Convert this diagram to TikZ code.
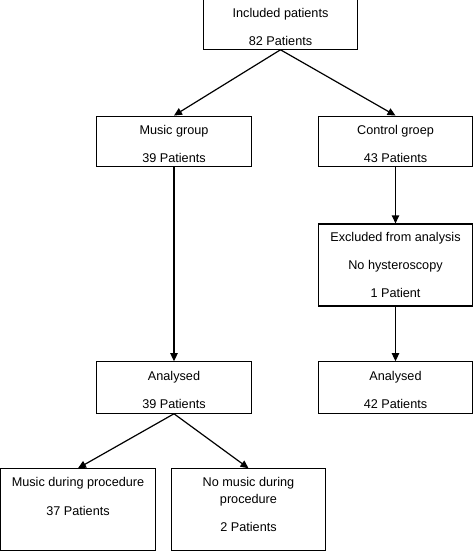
\documentclass[tikz,border=0pt]{standalone}
\usepackage{fontspec}
\setmainfont{Liberation Sans}
\usepackage{tikz}
\usetikzlibrary{arrows.meta}

\newcommand{\toppad}{\rule{0pt}{10pt}}

\begin{document}
\begin{tikzpicture}[
						x=0.75pt, y=-0.75pt,
						flowbox/.style={rectangle, draw=black, line width=0.9pt, fill=white, inner sep=0pt, minimum width=116pt, align=center, font=\fontsize{9.5pt}{12.75pt}\selectfont},
						flowarrow/.style={line width=0.9pt, -{Triangle[length=6pt,width=5.5pt]}},
						]
						\useasboundingbox (0,0) rectangle (474,551);
						%Nodes
						\node[flowbox, minimum height=37pt]      (incl) 	at 	(280.5,24.5)   	{\toppad Included patients\\[8.25pt]82 Patients};
						\node[flowbox, minimum height=38pt]      (music) 	at 	(174,141.5)     {\toppad Music group\\[8.25pt]39 Patients};
						\node[flowbox, minimum height=38pt]      (ctrl) 	at 	(395.5,141.5)   {\toppad Control groep\\[8.25pt]43 Patients};
						\node[flowbox, minimum height=61.5pt]    (excl) 	at 	(395.5,265)     {Excluded from analysis\\[8.25pt]No hysteroscopy\\[8.25pt]1 Patient};
						\node[flowbox, minimum height=38.5pt]    (anaR) 	at 	(395.5,387.5)   {\toppad Analysed\\[8.25pt]42 Patients};
						\node[flowbox, minimum height=38.5pt]    (anaL) 	at 	(174,387.5)     {\toppad Analysed\\[8.25pt]39 Patients};
						\node[flowbox, minimum height=61pt]      (during) 	at 	(78,509.5)      {Music during procedure\\[9pt]37 Patients\\[6.75pt]\mbox{}};
						\node[flowbox, minimum height=61pt]      (nomusic) 	at 	(248.5,509.5)   {No music during\\procedure\\[8.25pt]2 Patients\\[-5.25pt]\mbox{}};

						%Connectors
						\draw[flowarrow] (incl.south) --  (music.north);
						\draw[flowarrow] (incl.south) --  (ctrl.north);
						\draw[flowarrow] (music.south) --  (anaL.north);
						\draw[flowarrow] (ctrl.south) --  (excl.north);
						\draw[flowarrow] (excl.south) --  (anaR.north);
						\draw[flowarrow] (anaL.south) --  (during.north);
						\draw[flowarrow] (anaL.south) --  (nomusic.north);
					\end{tikzpicture}
\end{document}
